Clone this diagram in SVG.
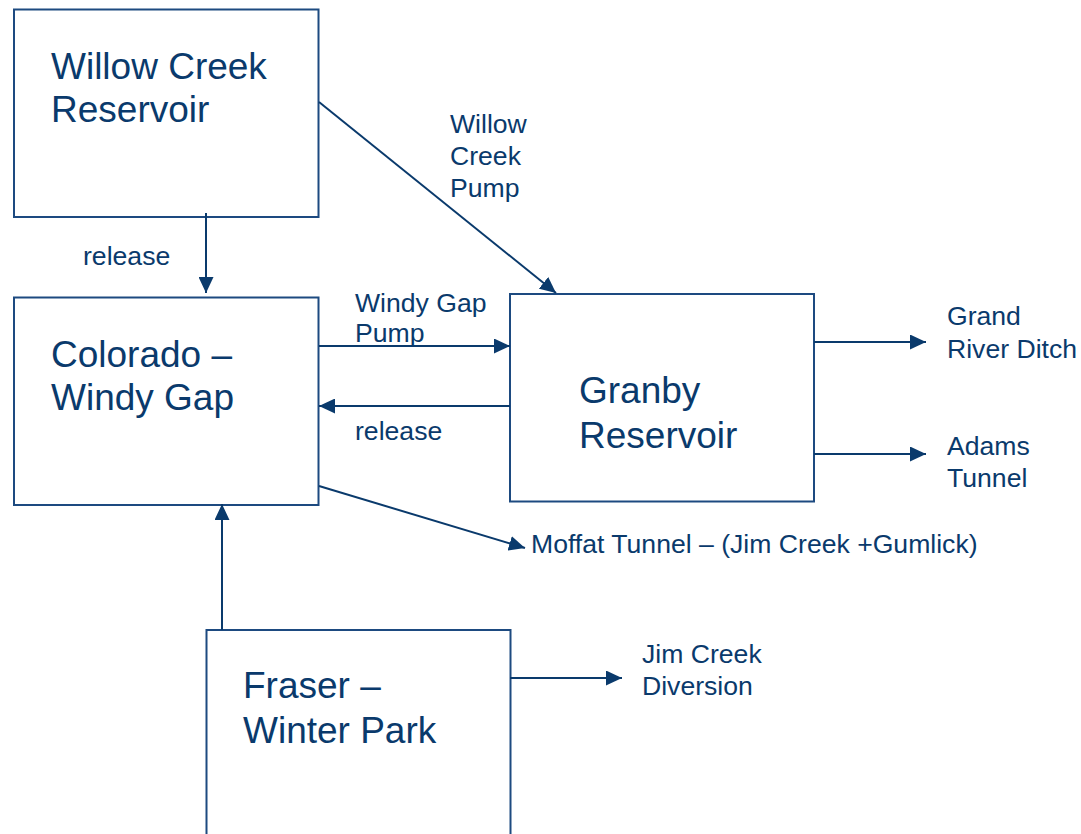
<svg xmlns="http://www.w3.org/2000/svg" width="1081" height="834" viewBox="0 0 1081 834">
<style>
.box{fill:#fff;stroke:#1d4a80;stroke-width:2}
.big{font-family:"Liberation Sans",Arial,sans-serif;font-size:37px;fill:#0a3a6c}
.sm{font-family:"Liberation Sans",Arial,sans-serif;font-size:26.6px;fill:#0a3a6c}
.ln{stroke:#0a3a6c;stroke-width:2;fill:none;marker-end:url(#ah)}
</style>
<defs>
<marker id="ah" markerUnits="userSpaceOnUse" markerWidth="17" markerHeight="15" refX="16" refY="7.5" orient="auto">
<path d="M0,0 L16,7.5 L0,15 z" fill="#0a3a6c"/>
</marker>
</defs>
<rect width="1081" height="834" fill="#fff"/>
<g id="willow-creek">
<rect class="box" x="14" y="9.5" width="304.5" height="207.5"/>
<text class="big" x="51" y="78.5">Willow Creek</text>
<text class="big" x="51" y="121.5">Reservoir</text>
</g>
<g id="colorado">
<rect class="box" x="14" y="297.5" width="304.5" height="207.5"/>
<text class="big" x="51" y="366.5">Colorado –</text>
<text class="big" x="51" y="409.5">Windy Gap</text>
</g>
<g id="granby">
<rect class="box" x="510" y="294" width="304" height="207.5"/>
<text class="big" x="579" y="403">Granby</text>
<text class="big" x="579" y="447.5">Reservoir</text>
</g>
<g id="fraser">
<rect class="box" x="206.5" y="630" width="304" height="240"/>
<text class="big" x="243" y="698">Fraser –</text>
<text class="big" x="243" y="743">Winter Park</text>
</g>
<g id="connectors">
<line class="ln" x1="206" y1="213" x2="206" y2="293"/>
<line class="ln" x1="319" y1="102" x2="556" y2="293"/>
<line class="ln" x1="319" y1="346" x2="510" y2="346"/>
<line class="ln" x1="510" y1="406" x2="319" y2="406"/>
<line class="ln" x1="814" y1="342" x2="926" y2="342"/>
<line class="ln" x1="814" y1="454" x2="926" y2="454"/>
<line class="ln" x1="319" y1="486" x2="525" y2="548"/>
<line class="ln" x1="222" y1="630" x2="222" y2="504"/>
<line class="ln" x1="510" y1="678" x2="622" y2="678"/>
</g>
<g id="labels">
<text class="sm" x="83" y="265">release</text>
<text class="sm" x="450" y="133">Willow</text>
<text class="sm" x="450" y="165">Creek</text>
<text class="sm" x="450" y="197">Pump</text>
<text class="sm" x="355" y="312">Windy Gap</text>
<text class="sm" x="355" y="342">Pump</text>
<text class="sm" x="355" y="440">release</text>
<text class="sm" x="947" y="325">Grand</text>
<text class="sm" x="947" y="358">River Ditch</text>
<text class="sm" x="947" y="455">Adams</text>
<text class="sm" x="947" y="487">Tunnel</text>
<text class="sm" x="531" y="553">Moffat Tunnel – (Jim Creek +Gumlick)</text>
<text class="sm" x="642" y="663">Jim Creek</text>
<text class="sm" x="642" y="695">Diversion</text>
</g>
</svg>
